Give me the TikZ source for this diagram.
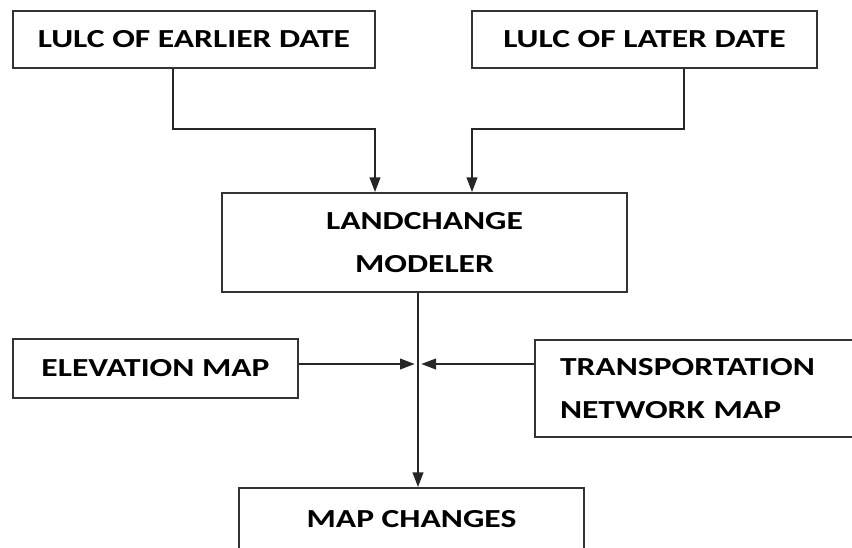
\documentclass[tikz,border=0pt]{standalone}
\usepackage{fontspec}
\setmainfont{Carlito}[FakeStretch=1.29]
\usetikzlibrary{arrows.meta}
\usetikzlibrary{calc}
\begin{document}
\begin{tikzpicture}[x=0.75pt,y=-0.75pt,
	box_node/.style={rectangle,draw=black!80,line width=1.4pt,inner sep=0pt,align=center,
		font=\fontsize{19.5}{32}\selectfont\bfseries},
	flow_arrow/.style={line width=1.4pt,draw=black!85,-{Triangle[length=11pt,width=8pt]}}]
				\useasboundingbox (0,0) rectangle (852,547);
				\node[box_node,minimum width=362*0.75pt,minimum height=57*0.75pt](1) at (194,39.5){LULC OF EARLIER DATE};
				\node[box_node,minimum width=345*0.75pt,minimum height=57*0.75pt](2) at (644.5,39.5){LULC OF LATER DATE};
				\node[box_node,minimum width=405*0.75pt,minimum height=99*0.75pt](3) at (424.5,242.5){LANDCHANGE\\MODELER};
				\node[box_node,minimum width=285*0.75pt,minimum height=59*0.75pt](4) at (155.5,368.5){ELEVATION MAP};
				\node[box_node,text width=285*0.75pt,align=left,inner xsep=25*0.75pt,minimum height=97*0.75pt](5) at (702.5,388.5){TRANSPORTATION\\NETWORK MAP};
				\node[box_node,minimum width=345*0.75pt,minimum height=62*0.75pt](6) at (411.5,519){MAP CHANGES};
				% corners of the connectors
				\coordinate (p1) at (173,129);
				\coordinate (q1) at (375,129);
				\coordinate (p2) at (684,129);
				\coordinate (q2) at (472,129);
				\coordinate (j) at (418,364);
				\draw[flow_arrow] (1.south -| p1) -- (p1) -- (q1) -- (3.north -| q1);
				\draw[flow_arrow] (2.south -| p2) -- (p2) -- (q2) -- (3.north -| q2);
				\draw[flow_arrow] (3.south -| j) -- (j) -- (6.north -| j);
				\draw[flow_arrow,shorten >=2.5pt] (4.east |- j) -- (j);
				\draw[flow_arrow,shorten >=2.5pt] (5.west |- j) -- (j);
			\end{tikzpicture}
\end{document}
